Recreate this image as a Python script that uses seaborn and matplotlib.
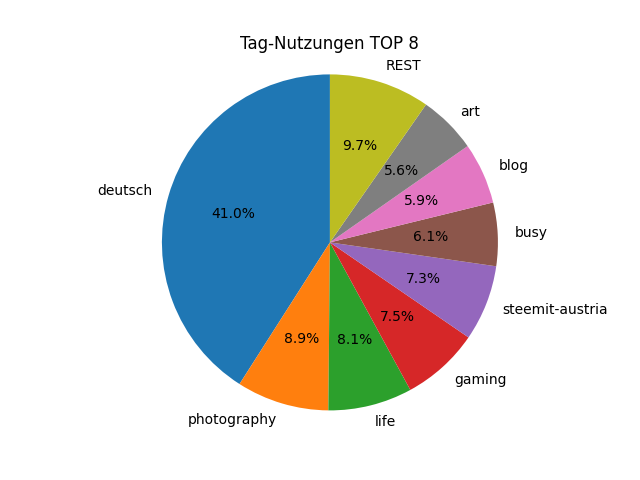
import matplotlib
matplotlib.use('Agg')
import matplotlib.pyplot as plt
import seaborn as sns

# tag usage shares (percent)
tags = ["deutsch", "photography", "life", "gaming", "steemit-austria",
        "busy", "blog", "art", "REST"]
shares = [41.0, 8.9, 8.1, 7.5, 7.3, 6.1, 5.9, 5.6, 9.7]
title = "Tag-Nutzungen TOP 8"

sns.set_style("white")
plt.rcParams['font.family'] = ['DejaVu Sans']
plt.rcParams['text.color'] = 'black'

colors = sns.color_palette("tab10", len(tags))

fig, ax = plt.subplots(figsize=(6.4, 4.8), dpi=100)
fig.subplots_adjust(left=0.128, right=0.903)
ax.pie(shares, labels=tags, colors=colors, autopct='%1.1f%%', startangle=90,
       wedgeprops={'linewidth': 0, 'edgecolor': 'none'})
ax.set_aspect('equal')
ax.set_xlim(-1.1, 1.1)
ax.set_ylim(-1.1, 1.1)
ax.set_title(title)

plt.savefig("out.png", dpi=100)
plt.close()
